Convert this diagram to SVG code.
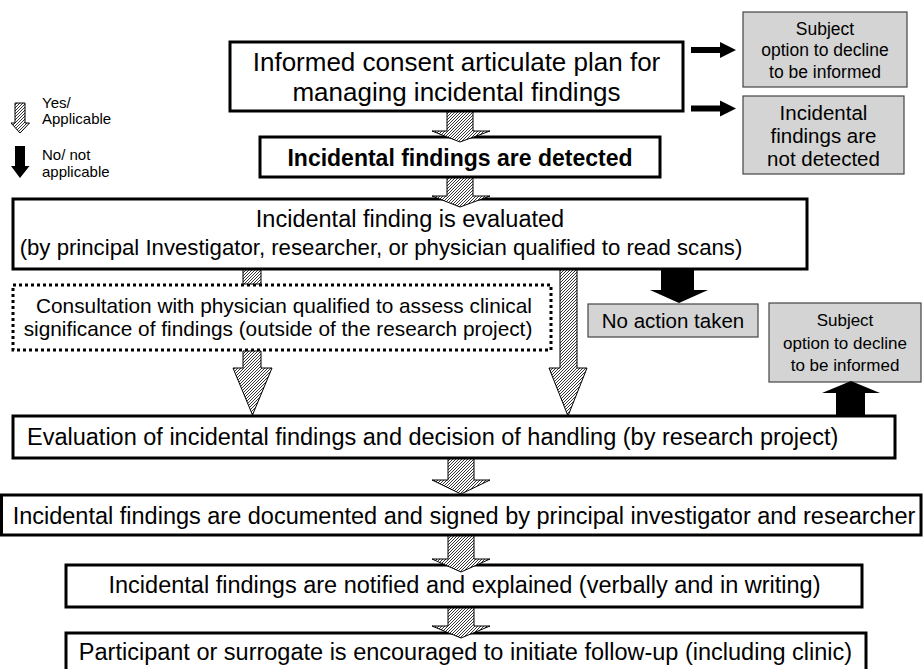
<svg xmlns="http://www.w3.org/2000/svg" width="923" height="669" viewBox="0 0 923 669">
<defs>
<pattern id="hatch" patternUnits="userSpaceOnUse" width="3" height="3">
<rect width="3" height="3" fill="#fff"/>
<path d="M-1,1 L1,-1 M0,3 L3,0 M2,4 L4,2" stroke="#000" stroke-width="0.8"/>
</pattern>
</defs>
<style>
text{font-family:"Liberation Sans",Arial,sans-serif;fill:#000}
.box{fill:#fff;stroke:#000;stroke-width:3}
.dot{fill:#fff;stroke:#000;stroke-width:3;stroke-dasharray:3 3}
.gray{fill:#d4d4d4;stroke:#444;stroke-width:1.2}
.hat{fill:url(#hatch);stroke:#000;stroke-width:1}
.blk{fill:#000;stroke:none}
.c{text-anchor:middle}
.big{font-size:26px}
.mid{font-size:23.5px}
.sm{font-size:17.5px}
.leg{font-size:15px}
</style>
<rect width="923" height="669" fill="#fff"/>
<g id="legend">
<polygon class="hat" points="15,103 25,103 25,123 29.5,123 20,133 11,123 15,123"/>
<text class="leg" x="42" y="108">Yes/</text>
<text class="leg" x="42" y="124">Applicable</text>
<polygon class="blk" points="15,146 25,146 25,166 29.5,166 20,178 11,166 15,166"/>
<text class="leg" x="42" y="160">No/ not</text>
<text class="leg" x="42" y="177">applicable</text>
</g>
<g id="n-consent">
<rect class="box" x="230" y="42" width="453" height="69"/>
<text class="big c" x="456.5" y="71">Informed consent articulate plan for</text>
<text class="big c" x="456.5" y="101">managing incidental findings</text>
</g>
<g id="n-subject-top">
<rect class="gray" x="743" y="12" width="164" height="75"/>
<text class="sm c" x="825" y="35">Subject</text>
<text class="sm c" x="825" y="56">option to decline</text>
<text class="sm c" x="825" y="78">to be informed</text>
</g>
<g id="n-not-detected">
<rect class="gray" x="743" y="96" width="161" height="78"/>
<text class="c" style="font-size:20.5px" x="823.5" y="120">Incidental</text>
<text class="c" style="font-size:20.5px" x="823.5" y="143">findings are</text>
<text class="c" style="font-size:20.5px" x="823.5" y="166">not detected</text>
</g>
<g id="n-detected">
<rect class="box" x="260" y="137" width="400" height="40"/>
<text class="c" style="font-size:23px;font-weight:bold" x="460" y="166">Incidental findings are detected</text>
</g>
<g id="n-evaluated">
<rect class="box" x="13" y="199" width="794" height="70"/>
<text class="c" style="font-size:23.5px" x="410" y="227">Incidental finding is evaluated</text>
<text class="c" style="font-size:22.2px" x="381" y="255">(by principal Investigator, researcher, or physician qualified to read scans)</text>
</g>
<g id="n-consultation">
<rect class="dot" x="13" y="285" width="538" height="65"/>
<text class="c" style="font-size:20.8px" x="284" y="313">Consultation with physician qualified to assess clinical</text>
<text class="c" style="font-size:20.8px" x="278" y="336">significance of findings (outside of the research project)</text>
</g>
<g id="n-no-action">
<rect class="gray" x="588" y="304" width="170" height="33"/>
<text class="c" style="font-size:20.5px" x="673" y="328">No action taken</text>
</g>
<g id="n-subject-low">
<rect class="gray" x="769" y="303" width="152" height="79"/>
<text class="c" style="font-size:17px" x="845" y="326">Subject</text>
<text class="c" style="font-size:17px" x="845" y="349">option to decline</text>
<text class="c" style="font-size:17px" x="845" y="371">to be informed</text>
</g>
<g id="n-evaluation">
<rect class="box" x="13" y="416" width="882" height="42"/>
<text class="mid" x="27" y="445">Evaluation of incidental findings and decision of handling (by research project)</text>
</g>
<g id="n-documented">
<rect class="box" x="1.5" y="495" width="919.5" height="40"/>
<text class="mid c" x="464" y="524">Incidental findings are documented and signed by principal investigator and researcher</text>
</g>
<g id="n-notified">
<rect class="box" x="66" y="565" width="796" height="42"/>
<text class="mid c" x="464.5" y="593">Incidental findings are notified and explained (verbally and in writing)</text>
</g>
<g id="n-participant">
<rect class="box" x="66" y="633" width="800" height="50"/>
<text class="mid c" x="465.5" y="660">Participant or surrogate is encouraged to initiate follow-up (including clinic)</text>
</g>
<g id="connectors">
<polygon class="blk" points="691,47 720,47 720,42 736,50 720,58 720,53 691,53"/>
<polygon class="blk" points="691,105.5 720,105.5 720,100.5 736,108.5 720,116.5 720,111.5 691,111.5"/>
<polygon class="hat" points="447,112 473,112 473,131 490,131 460,142 432,131 447,131"/>
<polygon class="hat" points="447,178 473,178 473,196 490,196 460,207 432,196 447,196"/>
<rect class="hat" x="243" y="270" width="18" height="14"/>
<polygon class="hat" points="243,351 261,351 261,368 272,368 252.5,415 233,368 243,368"/>
<polygon class="hat" points="560,270 577,270 577,368 587,368 568,416 549,368 560,368"/>
<polygon class="blk" points="661,269 694,269 694,290 708,290 679,303 650,290 661,290"/>
<polygon class="blk" points="836,415 865,415 865,393 880,393 851,381 822,393 836,393"/>
<polygon class="hat" points="448,459 474,459 474,480 490,480 461,494 432,480 448,480"/>
<polygon class="hat" points="448,536 474,536 474,559 490,559 461,572 432,559 448,559"/>
<polygon class="hat" points="448,608 474,608 474,626 490,626 461,638 432,626 448,626"/>
</g>
</svg>
